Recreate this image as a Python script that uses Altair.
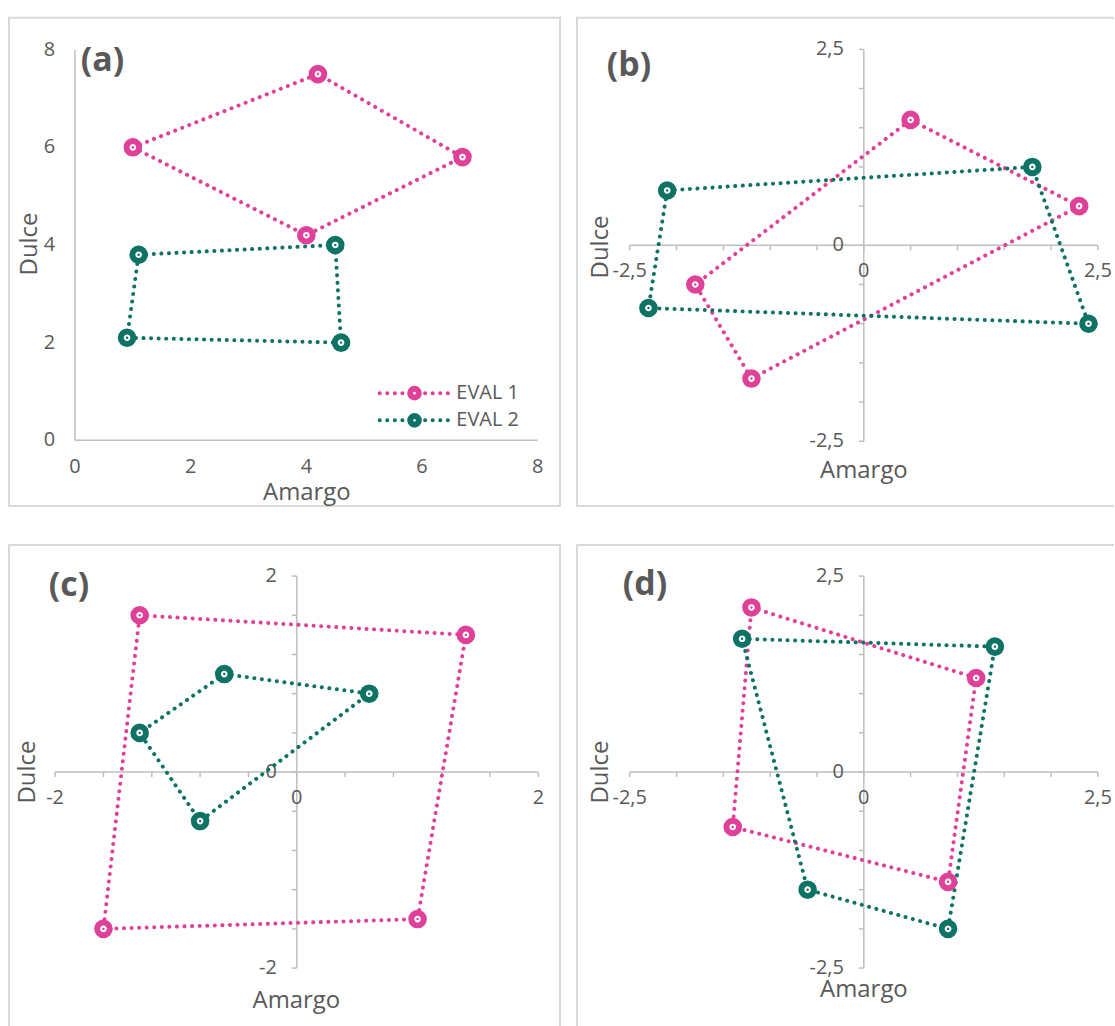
import altair as alt
import pandas as pd

PINK = "#DF4199"
TEAL = "#0E7265"
AXIS = "#BFBFBF"
INK = "#595959"
FRAME = "#D9D9D9"
FONT = "Open Sans"

SERIES = ["EVAL 1", "EVAL 2"]

# (a) raw scores
a_eval1_amargo = [1.0, 4.2, 6.7, 4.0]
a_eval1_dulce = [6.0, 7.5, 5.8, 4.2]
a_eval2_amargo = [1.1, 4.5, 4.6, 0.9]
a_eval2_dulce = [3.8, 4.0, 2.0, 2.1]

# (b) centred scores
b_eval1_amargo = [0.5, 2.3, -1.2, -1.8]
b_eval1_dulce = [1.6, 0.5, -1.7, -0.5]
b_eval2_amargo = [-2.1, 1.8, 2.4, -2.3]
b_eval2_dulce = [0.7, 1.0, -1.0, -0.8]

# (c)
c_eval1_amargo = [-1.3, 1.4, 1.0, -1.6]
c_eval1_dulce = [1.6, 1.4, -1.5, -1.6]
c_eval2_amargo = [-0.6, 0.6, -0.8, -1.3]
c_eval2_dulce = [1.0, 0.8, -0.5, 0.4]

# (d)
d_eval1_amargo = [-1.2, 1.2, 0.9, -1.4]
d_eval1_dulce = [2.1, 1.2, -1.4, -0.7]
d_eval2_amargo = [-1.3, 1.4, 0.9, -0.6]
d_eval2_dulce = [1.7, 1.6, -2.0, -1.5]

# axis ticks and labels
a_label_values = [0, 2, 4, 6, 8]
a_labels = ["0", "2", "4", "6", "8"]
bd_minor = [-2.5, -2.0, -1.5, -1.0, -0.5, 0.0, 0.5, 1.0, 1.5, 2.0, 2.5]
bd_label_values = [-2.5, 0, 2.5]
bd_labels = ["-2,5", "0", "2,5"]
c_minor = [-2.0, -1.6, -1.2, -0.8, -0.4, 0.0, 0.4, 0.8, 1.2, 1.6, 2.0]
c_label_values = [-2, 0, 2]
c_labels = ["-2", "0", "2"]

LABEL_SIZE = 20
TITLE_SIZE = 24
LETTER_SIZE = 34

color_scale = alt.Scale(domain=SERIES, range=[PINK, TEAL])


def x_domain(lo, hi, p_lo, p_hi, width):
    """Domain placing lo at pixel p_lo and hi at pixel p_hi (from the left)."""
    k = (hi - lo) / (p_hi - p_lo)
    return [lo - p_lo * k, hi + (width - p_hi) * k]


def y_domain(lo, hi, p_hi, p_lo, height):
    """Domain placing hi at pixel p_hi and lo at pixel p_lo (from the top)."""
    k = (hi - lo) / (p_lo - p_hi)
    return [lo - (height - p_lo) * k, hi + p_hi * k]


def frames(e1x, e1y, e2x, e2y):
    pts, path = [], []
    for serie, xs, ys in ((SERIES[0], e1x, e1y), (SERIES[1], e2x, e2y)):
        for x, y in zip(xs, ys):
            pts.append({"serie": serie, "amargo": x, "dulce": y})
        for k, (x, y) in enumerate(zip(xs + xs[:1], ys + ys[:1])):
            path.append({"serie": serie, "orden": k, "amargo": x, "dulce": y})
    return pd.DataFrame(pts), pd.DataFrame(path)


def text_at(t, px, py, **kw):
    return alt.Chart(pd.DataFrame({"t": [t]})).mark_text(
        font=FONT, color=INK, **kw
    ).encode(x=alt.value(px), y=alt.value(py), text="t:N")


def border(w, h, sides):
    """Light frame around a panel; sides cut off by the page edge are left out."""
    out = []
    ext_l = 1 if "left" in sides else 0
    ext_r = 1 if "right" in sides else 0
    ext_t = 1 if "top" in sides else 0
    ext_b = 1 if "bottom" in sides else 0
    segs = {
        "left": (0, 0, -ext_t, h + ext_b),
        "right": (w, w, -ext_t, h + ext_b),
        "top": (-ext_l, w + ext_r, 0, 0),
        "bottom": (-ext_l, w + ext_r, h, h),
    }
    for side in sides:
        x1, x2, y1, y2 = segs[side]
        out.append(alt.Chart(pd.DataFrame({"side": [side]}))
                   .mark_rule(color=FRAME, strokeWidth=2)
                   .encode(x=alt.value(x1), x2=alt.value(x2), y=alt.value(y1), y2=alt.value(y2)))
    return out


def panel(letter, data, size, sides, xr, yr, xpix, ypix, minor, label_values, labels,
          letter_pos, amargo_pos, dulce_pos, label_dy, legend=False):
    w, h = size
    xs = alt.Scale(domain=x_domain(xr[0], xr[1], xpix[0], xpix[1], w), nice=False, zero=False)
    ys = alt.Scale(domain=y_domain(yr[0], yr[1], ypix[0], ypix[1], h), nice=False, zero=False)

    def X(f):
        return alt.X(f, scale=xs, axis=None)

    def Y(f):
        return alt.Y(f, scale=ys, axis=None)

    col = alt.Color("serie:N", scale=color_scale, legend=None)
    layers = border(w, h, sides)

    # axis lines crossing at the origin
    layers.append(alt.Chart(pd.DataFrame({"a0": [xr[0]], "a1": [xr[1]], "d": [0.0]}))
                  .mark_rule(color=AXIS, strokeWidth=1.5)
                  .encode(x=X("a0:Q"), x2="a1:Q", y=Y("d:Q")))
    layers.append(alt.Chart(pd.DataFrame({"a": [0.0], "d0": [yr[0]], "d1": [yr[1]]}))
                  .mark_rule(color=AXIS, strokeWidth=1.5)
                  .encode(x=X("a:Q"), y=Y("d0:Q"), y2="d1:Q"))

    # minor tick marks
    if minor:
        layers.append(alt.Chart(pd.DataFrame({"a": minor, "d": 0.0}))
                      .mark_rule(color=AXIS, strokeWidth=1.5, y2Offset=5)
                      .encode(x=X("a:Q"), y=Y("d:Q"), y2="d:Q"))
        layers.append(alt.Chart(pd.DataFrame({"a": 0.0, "d": minor}))
                      .mark_rule(color=AXIS, strokeWidth=1.5, x2Offset=-5)
                      .encode(x=X("a:Q"), x2="a:Q", y=Y("d:Q")))

    # tick labels
    layers.append(alt.Chart(pd.DataFrame({"a": label_values, "d": 0.0, "t": labels}))
                  .mark_text(font=FONT, fontSize=LABEL_SIZE, color=INK, dy=label_dy,
                             align="center", baseline="middle")
                  .encode(x=X("a:Q"), y=Y("d:Q"), text="t:N"))
    layers.append(alt.Chart(pd.DataFrame({"a": 0.0, "d": label_values, "t": labels}))
                  .mark_text(font=FONT, fontSize=LABEL_SIZE, color=INK, dx=-20,
                             align="right", baseline="middle")
                  .encode(x=X("a:Q"), y=Y("d:Q"), text="t:N"))

    # the two evaluations
    pts, path = data
    layers.append(alt.Chart(path).mark_line(strokeWidth=4, strokeDash=[0.1, 7.5], strokeCap="round")
                  .encode(x=X("amargo:Q"), y=Y("dulce:Q"), color=col, order="orden:Q"))
    layers.append(alt.Chart(pts).mark_point(shape="circle", size=160, strokeWidth=6, filled=False,
                                            fill="white", opacity=1)
                  .encode(x=X("amargo:Q"), y=Y("dulce:Q"), color=col))
    layers.append(alt.Chart(pts).mark_point(shape="circle", size=6, filled=True, opacity=1)
                  .encode(x=X("amargo:Q"), y=Y("dulce:Q"), color=col))

    # panel letter and axis titles
    layers.append(text_at(letter, letter_pos[0], letter_pos[1], fontSize=LETTER_SIZE, fontWeight="bold",
                          align="left", baseline="middle"))
    layers.append(text_at("Amargo", amargo_pos[0], amargo_pos[1], fontSize=TITLE_SIZE,
                          align="center", baseline="middle"))
    layers.append(text_at("Dulce", dulce_pos[0], dulce_pos[1], fontSize=TITLE_SIZE, angle=270,
                          align="center", baseline="middle"))

    if legend:
        rows_y = [376.7, 404.0]
        for serie, ry in zip(SERIES, rows_y):
            row = pd.DataFrame({"serie": [serie]})
            layers.append(alt.Chart(row).mark_rule(strokeWidth=4, strokeDash=[0.1, 7.5], strokeCap="round")
                          .encode(x=alt.value(372), x2=alt.value(442), y=alt.value(ry), color=col))
            layers.append(alt.Chart(row).mark_point(shape="circle", size=75, strokeWidth=6, filled=False,
                                                    fill="white", opacity=1)
                          .encode(x=alt.value(407), y=alt.value(ry), color=col))
            layers.append(alt.Chart(row).mark_text(font=FONT, fontSize=LABEL_SIZE, color=INK,
                                                   align="left", baseline="middle")
                          .encode(x=alt.value(449), y=alt.value(ry), text="serie:N"))

    return alt.layer(*layers).properties(width=w, height=h)


pa = panel("(a)", frames(a_eval1_amargo, a_eval1_dulce, a_eval2_amargo, a_eval2_dulce),
           (553, 490), ["left", "top", "right", "bottom"],
           (0, 8), (0, 8), (66.3, 530.6), (32, 424), None, a_label_values, a_labels,
           (72, 43), (299, 477), (21, 227), 27, legend=True)
pb = panel("(b)", frames(b_eval1_amargo, b_eval1_dulce, b_eval2_amargo, b_eval2_dulce),
           (539, 490), ["left", "top", "bottom"],
           (-2.5, 2.5), (-2.5, 2.5), (53, 522.8), (31.7, 425), bd_minor, bd_label_values, bd_labels,
           (30, 48), (288, 455), (24.5, 230), 26)
pc = panel("(c)", frames(c_eval1_amargo, c_eval1_dulce, c_eval2_amargo, c_eval2_dulce),
           (553, 484), ["left", "top", "right"],
           (-2, 2), (-2, 2), (46.3, 531.3), (31.3, 424.7), c_minor, c_label_values, c_labels,
           (40, 41), (288.4, 458), (19, 228), 26)
pd_ = panel("(d)", frames(d_eval1_amargo, d_eval1_dulce, d_eval2_amargo, d_eval2_dulce),
            (539, 484), ["left", "top"],
            (-2.5, 2.5), (-2.5, 2.5), (53, 522.8), (31.3, 424.7), bd_minor, bd_label_values, bd_labels,
            (46, 40), (288, 447), (24.5, 228), 26)

chart = alt.vconcat(
    alt.hconcat(pa, pb, spacing=13),
    alt.hconcat(pc, pd_, spacing=13),
    spacing=35,
).properties(
    padding={"left": 7, "top": 14, "right": 0, "bottom": 0},
    background="white",
).configure_view(strokeWidth=0)

chart.save("out.html", embed_options={"renderer": "svg", "actions": False})
